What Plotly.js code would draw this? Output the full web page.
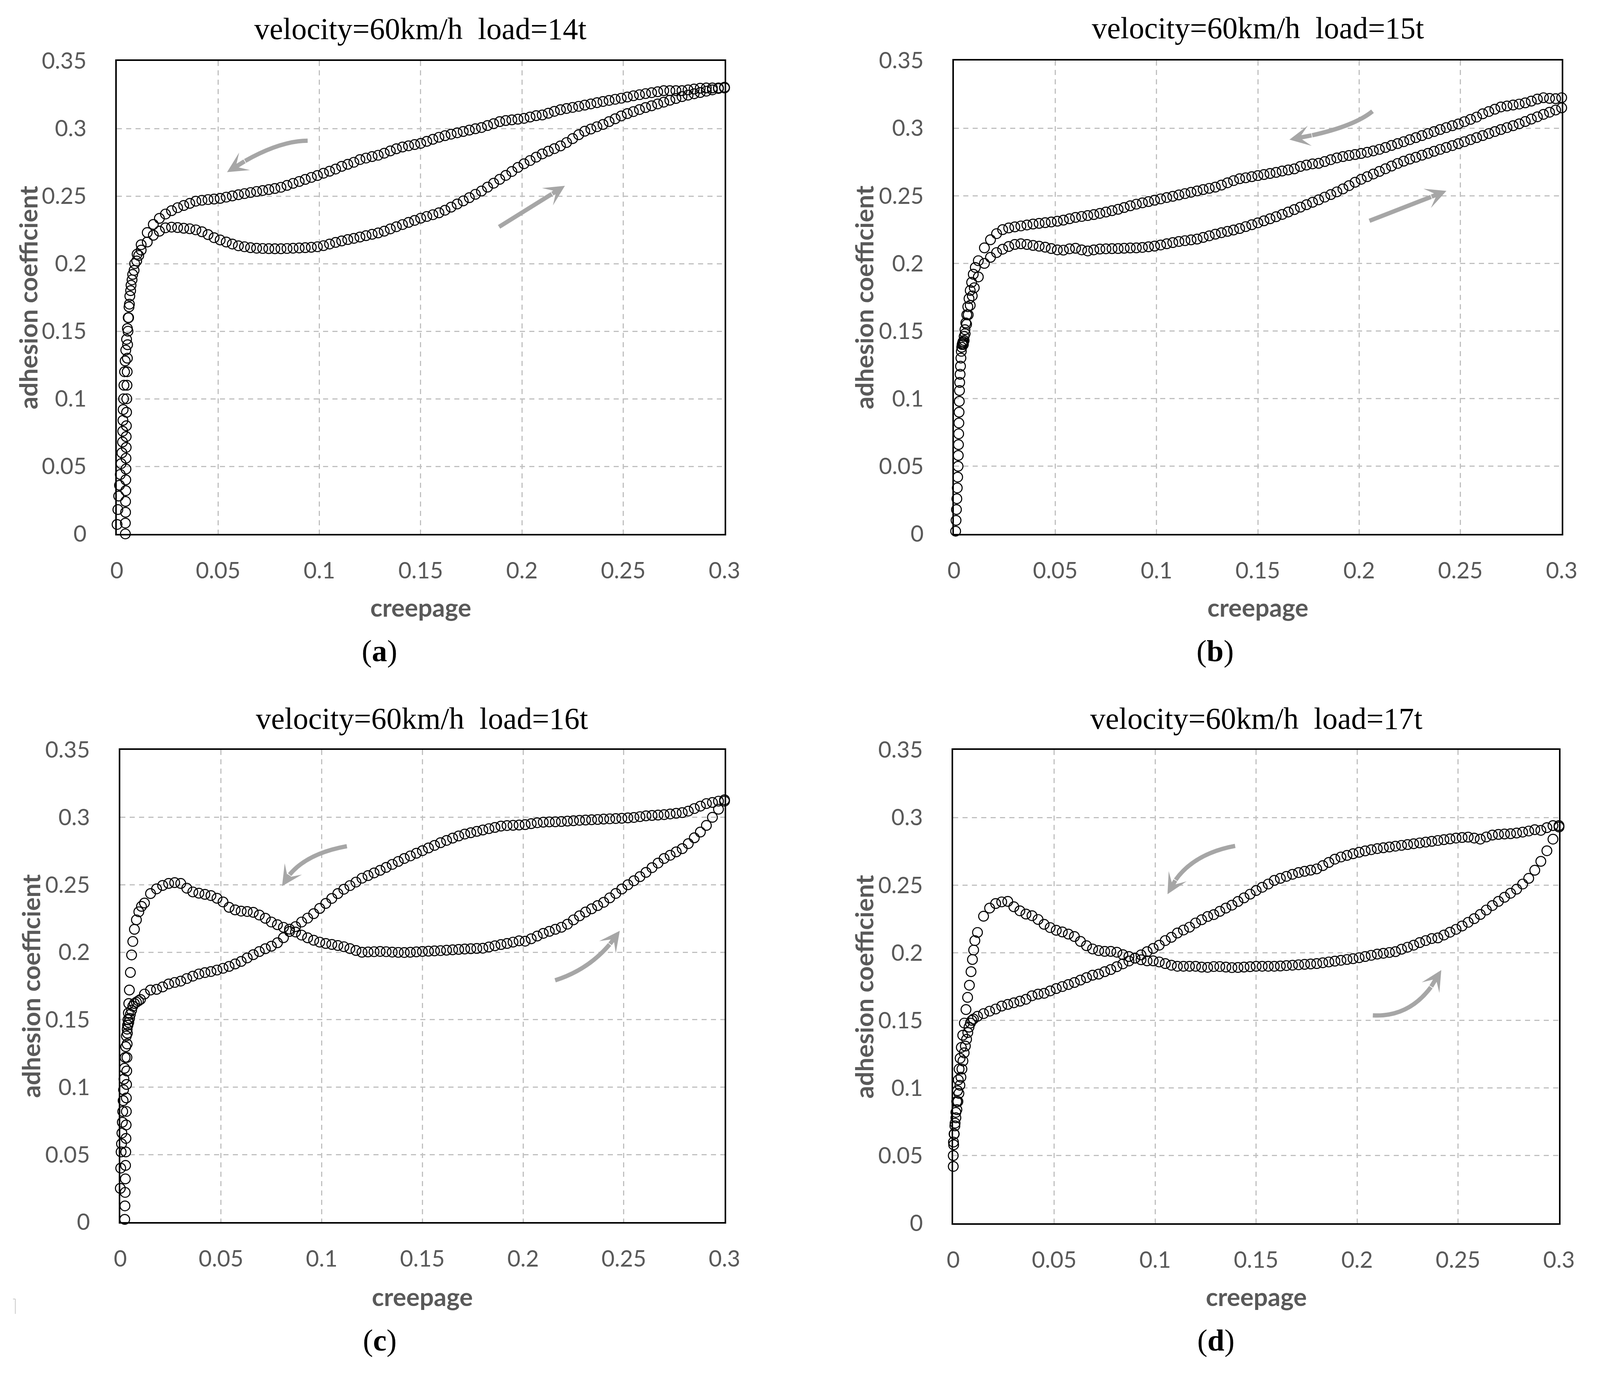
<!DOCTYPE html>
<html><head><meta charset="utf-8">
<script src="https://cdn.plot.ly/plotly-3.0.1.min.js"></script>
<style>html,body{margin:0;padding:0;background:#fff;overflow:hidden}</style>
</head><body>
<div id="chart"></div>
<script>
// reference frame is 4176 x 3518; the layout is expressed in fractions of it
const REF_W = 4176, REF_H = 3518;
const W = window.innerWidth || REF_W, H = window.innerHeight || REF_H;

const creepGrid = [
0.012,0.015,0.018,0.021,0.024,0.027,0.030,0.033,0.036,0.039,
0.042,0.045,0.048,0.051,0.054,0.057,0.060,0.063,0.066,0.069,
0.072,0.075,0.078,0.081,0.084,0.087,0.090,0.093,0.096,0.099,
0.102,0.105,0.108,0.111,0.114,0.117,0.120,0.123,0.126,0.129,
0.132,0.135,0.138,0.141,0.144,0.147,0.150,0.153,0.156,0.159,
0.162,0.165,0.168,0.171,0.174,0.177,0.180,0.183,0.186,0.189,
0.192,0.195,0.198,0.201,0.204,0.207,0.210,0.213,0.216,0.219,
0.222,0.225,0.228,0.231,0.234,0.237,0.240,0.243,0.246,0.249,
0.252,0.255,0.258,0.261,0.264,0.267,0.270,0.273,0.276,0.279,
0.282,0.285,0.288,0.291,0.294,0.297,0.300];

const aLoadLowX = [0.0042,0.0042,0.0043,0.0043,0.0044,0.0044,0.0045,0.0045,0.0046,0.0046,0.0047,0.0048,0.0049,0.0050,0.0051,0.0052,0.0053,0.0055,0.0058,0.0062,0.0068,0.0075,0.0085,0.0098,0.0108];
const aLoadLowY = [0.000,0.008,0.016,0.024,0.032,0.040,0.048,0.056,0.064,0.072,0.080,0.090,0.100,0.110,0.120,0.130,0.140,0.150,0.160,0.170,0.180,0.188,0.195,0.202,0.206];
const aLoadY = [
0.2100,0.2160,0.2210,0.2240,0.2265,0.2270,0.2267,0.2262,0.2258,0.2250,
0.2236,0.2215,0.2192,0.2175,0.2160,0.2145,0.2132,0.2125,0.2118,0.2114,
0.2112,0.2111,0.2110,0.2110,0.2112,0.2114,0.2116,0.2118,0.2121,0.2125,
0.2133,0.2145,0.2157,0.2168,0.2178,0.2187,0.2197,0.2207,0.2217,0.2227,
0.2240,0.2257,0.2273,0.2289,0.2305,0.2320,0.2336,0.2349,0.2362,0.2376,
0.2395,0.2418,0.2441,0.2464,0.2488,0.2513,0.2537,0.2566,0.2595,0.2624,
0.2653,0.2682,0.2712,0.2739,0.2763,0.2788,0.2812,0.2832,0.2851,0.2871,
0.2896,0.2925,0.2954,0.2980,0.2996,0.3013,0.3030,0.3051,0.3072,0.3093,
0.3110,0.3125,0.3140,0.3155,0.3168,0.3182,0.3195,0.3209,0.3222,0.3236,
0.3247,0.3257,0.3266,0.3276,0.3286,0.3296,0.3305];
const aUnloadY = [
0.2140,0.2230,0.2290,0.2335,0.2367,0.2392,0.2414,0.2430,0.2446,0.2462,
0.2469,0.2474,0.2478,0.2483,0.2492,0.2501,0.2510,0.2518,0.2526,0.2534,
0.2541,0.2548,0.2556,0.2565,0.2579,0.2594,0.2608,0.2623,0.2638,0.2652,
0.2669,0.2684,0.2700,0.2720,0.2735,0.2750,0.2770,0.2781,0.2792,0.2802,
0.2817,0.2834,0.2850,0.2863,0.2872,0.2881,0.2890,0.2905,0.2920,0.2935,
0.2947,0.2958,0.2968,0.2978,0.2988,0.2998,0.3007,0.3022,0.3036,0.3051,
0.3059,0.3064,0.3069,0.3075,0.3085,0.3095,0.3100,0.3113,0.3127,0.3139,
0.3148,0.3156,0.3164,0.3173,0.3182,0.3191,0.3200,0.3208,0.3216,0.3224,
0.3233,0.3242,0.3250,0.3258,0.3265,0.3272,0.3280,0.3280,0.3280,0.3280,
0.3286,0.3292,0.3298,0.3300,0.3300,0.3300,0.3300];
const aUnloadLowX = [0.0100,0.0088,0.0078,0.0070,0.0064,0.0060,0.0056,0.0052,0.0048,0.0044,0.0041,0.0038,0.0035,0.0033,0.0031,0.0030,0.0029,0.0028,0.0025,0.0021,0.0017,0.0013,0.0009,0.0005,0.0001];
const aUnloadLowY = [0.207,0.200,0.192,0.184,0.176,0.168,0.160,0.152,0.144,0.136,0.128,0.120,0.110,0.100,0.092,0.084,0.076,0.068,0.060,0.052,0.044,0.036,0.028,0.018,0.007];

const bLoadLowX = [0.0008,0.0010,0.0012,0.0014,0.0016,0.0018,0.0020,0.0021,0.0022,0.0023,0.0024,0.0025,0.0026,0.0027,0.0028,0.0030,0.0032,0.0034,0.0036,0.0038,0.0040,0.0042,0.0044,0.0046,0.0050,0.0055,0.0062,0.0070,0.0080,0.0090,0.0100];
const bLoadLowY = [0.002,0.010,0.018,0.026,0.034,0.042,0.050,0.058,0.066,0.074,0.082,0.090,0.098,0.106,0.112,0.118,0.124,0.130,0.135,0.138,0.140,0.141,0.142,0.140,0.143,0.148,0.155,0.162,0.169,0.176,0.182];
const bLoadY = [
0.1900,0.2000,0.2045,0.2080,0.2105,0.2125,0.2140,0.2145,0.2140,0.2133,
0.2127,0.2120,0.2110,0.2100,0.2098,0.2108,0.2112,0.2100,0.2092,0.2100,
0.2106,0.2108,0.2109,0.2110,0.2112,0.2114,0.2115,0.2118,0.2123,0.2128,
0.2136,0.2145,0.2154,0.2162,0.2168,0.2174,0.2180,0.2192,0.2204,0.2216,
0.2227,0.2237,0.2247,0.2258,0.2272,0.2286,0.2300,0.2315,0.2330,0.2345,
0.2362,0.2380,0.2398,0.2416,0.2434,0.2452,0.2470,0.2490,0.2509,0.2529,
0.2551,0.2575,0.2600,0.2622,0.2641,0.2661,0.2680,0.2700,0.2720,0.2739,
0.2756,0.2771,0.2785,0.2800,0.2814,0.2829,0.2843,0.2857,0.2871,0.2885,
0.2900,0.2915,0.2930,0.2945,0.2960,0.2975,0.2990,0.3004,0.3018,0.3032,
0.3049,0.3067,0.3084,0.3102,0.3118,0.3134,0.3150];
const bUnloadY = [
0.2020,0.2115,0.2175,0.2220,0.2250,0.2262,0.2270,0.2277,0.2284,0.2291,
0.2296,0.2301,0.2306,0.2312,0.2320,0.2330,0.2340,0.2347,0.2354,0.2361,
0.2370,0.2380,0.2390,0.2400,0.2413,0.2426,0.2438,0.2448,0.2457,0.2467,
0.2477,0.2487,0.2496,0.2506,0.2516,0.2526,0.2536,0.2546,0.2555,0.2564,
0.2579,0.2596,0.2612,0.2626,0.2633,0.2641,0.2649,0.2657,0.2665,0.2673,
0.2683,0.2691,0.2699,0.2717,0.2727,0.2736,0.2740,0.2753,0.2767,0.2780,
0.2790,0.2798,0.2805,0.2813,0.2822,0.2832,0.2843,0.2857,0.2872,0.2886,
0.2900,0.2915,0.2930,0.2945,0.2960,0.2975,0.2990,0.3004,0.3018,0.3031,
0.3048,0.3065,0.3082,0.3106,0.3123,0.3140,0.3157,0.3164,0.3171,0.3178,
0.3187,0.3200,0.3215,0.3225,0.3220,0.3218,0.3225];
const bUnloadLowX = [0.0105,0.0095,0.0087,0.0080,0.0074,0.0068,0.0063,0.0058,0.0054,0.0050,0.0047];
const bUnloadLowY = [0.197,0.192,0.186,0.180,0.174,0.168,0.162,0.156,0.151,0.146,0.142];

const cLoadLowX = [0.0022,0.0023,0.0024,0.0025,0.0026,0.0027,0.0028,0.0029,0.0030,0.0030,0.0031,0.0032,0.0033,0.0034,0.0035,0.0036,0.0038,0.0040,0.0042,0.0045,0.0050,0.0056,0.0062,0.0070,0.0080,0.0092,0.0105];
const cLoadLowY = [0.002,0.012,0.022,0.032,0.042,0.052,0.062,0.072,0.082,0.092,0.102,0.112,0.122,0.132,0.140,0.146,0.150,0.155,0.162,0.172,0.185,0.198,0.208,0.217,0.224,0.230,0.234];
const cLoadY = [
0.2365,0.2435,0.2470,0.2495,0.2510,0.2516,0.2510,0.2475,0.2447,0.2438,
0.2429,0.2420,0.2400,0.2373,0.2333,0.2314,0.2305,0.2302,0.2296,0.2276,
0.2252,0.2224,0.2204,0.2185,0.2171,0.2150,0.2127,0.2107,0.2089,0.2075,
0.2065,0.2058,0.2050,0.2041,0.2027,0.2013,0.2000,0.2002,0.2004,0.2006,
0.2004,0.2001,0.1999,0.1998,0.2000,0.2003,0.2006,0.2008,0.2010,0.2012,
0.2015,0.2018,0.2021,0.2024,0.2026,0.2028,0.2030,0.2039,0.2048,0.2057,
0.2065,0.2075,0.2085,0.2082,0.2100,0.2120,0.2140,0.2155,0.2170,0.2185,
0.2208,0.2240,0.2270,0.2298,0.2322,0.2346,0.2370,0.2403,0.2436,0.2469,
0.2500,0.2530,0.2560,0.2592,0.2627,0.2661,0.2695,0.2719,0.2744,0.2768,
0.2805,0.2848,0.2891,0.2940,0.3000,0.3060,0.3120];
const cUnloadY = [
0.1690,0.1720,0.1725,0.1743,0.1765,0.1776,0.1786,0.1805,0.1823,0.1839,
0.1849,0.1857,0.1868,0.1881,0.1895,0.1913,0.1932,0.1958,0.1982,0.2005,
0.2026,0.2045,0.2070,0.2108,0.2154,0.2190,0.2224,0.2253,0.2286,0.2325,
0.2362,0.2399,0.2435,0.2467,0.2494,0.2520,0.2549,0.2568,0.2588,0.2607,
0.2629,0.2651,0.2673,0.2695,0.2714,0.2734,0.2753,0.2773,0.2792,0.2812,
0.2829,0.2846,0.2862,0.2876,0.2886,0.2896,0.2906,0.2916,0.2925,0.2935,
0.2939,0.2941,0.2943,0.2946,0.2953,0.2960,0.2964,0.2966,0.2967,0.2969,
0.2972,0.2975,0.2978,0.2980,0.2982,0.2984,0.2987,0.2989,0.2991,0.2993,
0.2996,0.2999,0.3005,0.3011,0.3014,0.3017,0.3020,0.3025,0.3030,0.3035,
0.3046,0.3065,0.3083,0.3102,0.3110,0.3120,0.3130];
const cUnloadLowX = [0.0100,0.0090,0.0080,0.0070,0.0062,0.0056,0.0050,0.0046,0.0042,0.0038,0.0034,0.0030,0.0027,0.0024,0.0021,0.0018,0.0016,0.0014,0.0012,0.0010,0.0008,0.0006,0.0004,0.0002,0.0000];
const cUnloadLowY = [0.165,0.164,0.163,0.162,0.160,0.157,0.154,0.151,0.148,0.146,0.143,0.138,0.130,0.122,0.114,0.106,0.098,0.090,0.082,0.074,0.066,0.058,0.052,0.040,0.025];

const dLoadLowX = [0.0000,0.0000,0.0002,0.0005,0.0009,0.0013,0.0017,0.0021,0.0025,0.0029,0.0034,0.0040,0.0047,0.0055,0.0063,0.0071,0.0080,0.0088,0.0095,0.0101,0.0107];
const dLoadLowY = [0.042,0.050,0.058,0.066,0.074,0.082,0.090,0.098,0.106,0.114,0.122,0.130,0.139,0.148,0.158,0.167,0.176,0.186,0.195,0.202,0.209];
const dLoadY = [
0.2150,0.2270,0.2330,0.2364,0.2376,0.2380,0.2340,0.2310,0.2286,0.2274,
0.2246,0.2210,0.2186,0.2166,0.2154,0.2138,0.2120,0.2084,0.2052,0.2028,
0.2016,0.2010,0.2010,0.2004,0.1986,0.1972,0.1960,0.1948,0.1940,0.1940,
0.1932,0.1920,0.1908,0.1900,0.1900,0.1900,0.1900,0.1894,0.1892,0.1898,
0.1898,0.1894,0.1890,0.1891,0.1894,0.1897,0.1900,0.1900,0.1900,0.1900,
0.1902,0.1905,0.1908,0.1911,0.1914,0.1917,0.1920,0.1926,0.1932,0.1938,
0.1944,0.1950,0.1956,0.1963,0.1972,0.1981,0.1990,0.1996,0.2002,0.2008,
0.2026,0.2041,0.2056,0.2075,0.2090,0.2105,0.2110,0.2131,0.2152,0.2173,
0.2198,0.2225,0.2252,0.2283,0.2316,0.2349,0.2380,0.2410,0.2440,0.2470,
0.2508,0.2550,0.2610,0.2676,0.2754,0.2840,0.2930];
const dUnloadY = [
0.1530,0.1550,0.1568,0.1584,0.1606,0.1618,0.1630,0.1642,0.1656,0.1682,
0.1694,0.1700,0.1718,0.1735,0.1750,0.1765,0.1780,0.1798,0.1816,0.1834,
0.1842,0.1860,0.1876,0.1897,0.1918,0.1939,0.1960,0.1984,0.2008,0.2032,
0.2056,0.2090,0.2114,0.2146,0.2168,0.2189,0.2220,0.2244,0.2268,0.2282,
0.2306,0.2330,0.2352,0.2379,0.2406,0.2433,0.2460,0.2484,0.2508,0.2535,
0.2550,0.2565,0.2580,0.2593,0.2602,0.2611,0.2620,0.2644,0.2668,0.2692,
0.2708,0.2720,0.2732,0.2743,0.2753,0.2762,0.2770,0.2776,0.2782,0.2788,
0.2794,0.2800,0.2806,0.2812,0.2818,0.2824,0.2830,0.2836,0.2842,0.2848,
0.2852,0.2855,0.2848,0.2840,0.2856,0.2870,0.2875,0.2878,0.2880,0.2885,
0.2892,0.2900,0.2910,0.2905,0.2925,0.2940,0.2940];
const dUnloadLowX = [0.0100,0.0092,0.0085,0.0078,0.0072,0.0066,0.0060,0.0054,0.0048,0.0043,0.0038,0.0033,0.0028,0.0023,0.0018,0.0013,0.0008,0.0004,0.0001];
const dUnloadLowY = [0.151,0.150,0.148,0.145,0.141,0.136,0.131,0.126,0.120,0.114,0.108,0.102,0.096,0.090,0.084,0.078,0.072,0.066,0.060];

const panelTitles = ['velocity=60km/h\u00a0 load=14t','velocity=60km/h\u00a0 load=15t','velocity=60km/h\u00a0 load=16t','velocity=60km/h\u00a0 load=17t'];
const panelLetters = ['a','b','c','d'];
const xTitle = 'creepage';
const yTitle = 'adhesion coefficient';

const arrowsA = [[[0.0942,0.291],[0.0758,0.285],[0.0544,0.2677]], [[0.1887,0.2272],[0.2050,0.2424],[0.2212,0.2576]]];
const arrowsB = [[[0.2066,0.3125],[0.1908,0.3005],[0.1656,0.2915]], [[0.2051,0.2315],[0.2241,0.2426],[0.2431,0.2536]]];
const arrowsC = [[[0.1125,0.2786],[0.0922,0.2679],[0.0803,0.2490]], [[0.2159,0.1792],[0.2341,0.1932],[0.2480,0.2159]]];
const arrowsD = [[[0.1396,0.2790],[0.1187,0.2666],[0.1061,0.2433]], [[0.2078,0.1537],[0.2273,0.1612],[0.2417,0.1872]]];

// geometry measured in the 4176 x 3518 reference frame
const boxes = [
  {L:305, R:1891, T:156, B:1367},
  {L:2490, R:4076, T:155, B:1367},
  {L:314, R:1891, T:1920, B:3129},
  {L:2488, R:4069, T:1920, B:3132}
];
const titlePos = [[1098,74],[3283,72],[1102,1839],[3279,1839]];
const yTitleX = [73,2254,80,2254];
const xTitleY = [1554,1554,3319,3319];
const letterPos = [[990,1666],[3171,1666],[992,3431],[3173,3431]];

const panelData = [
  {loLX:aLoadLowX, loLY:aLoadLowY, lY:aLoadY, uY:aUnloadY, uLX:aUnloadLowX, uLY:aUnloadLowY, arrows:arrowsA},
  {loLX:bLoadLowX, loLY:bLoadLowY, lY:bLoadY, uY:bUnloadY, uLX:bUnloadLowX, uLY:bUnloadLowY, arrows:arrowsB},
  {loLX:cLoadLowX, loLY:cLoadLowY, lY:cLoadY, uY:cUnloadY, uLX:cUnloadLowX, uLY:cUnloadLowY, arrows:arrowsC},
  {loLX:dLoadLowX, loLY:dLoadLowY, lY:dLoadY, uY:dUnloadY, uLX:dUnloadLowX, uLY:dUnloadLowY, arrows:arrowsD}
];

const px = x => x / REF_W, py = y => 1 - y / REF_H;
const tickFont = {family:'Lato, "Open Sans", sans-serif', size:58, color:'#595959'};
const ARROW_COLOR = '#a6a6a6';

const traces = [], annotations = [], shapes = [];
const layout = {
  width: W, height: H, margin:{l:0,r:0,t:0,b:0},
  paper_bgcolor:'#ffffff', plot_bgcolor:'#ffffff', showlegend:false
};

const marker = {symbol:'circle-open', size:25, color:'#000000', line:{width:2.7, color:'#000000'}};

panelData.forEach((p, i) => {
  const n = i === 0 ? '' : String(i + 1);
  const xr = 'x' + n, yr = 'y' + n;
  const b = boxes[i];
  const common = {
    showgrid:true, gridcolor:'#c0c0c0', gridwidth:3, griddash:'13px,11px',
    zeroline:false, showline:true, linecolor:'#000000', linewidth:4, mirror:true,
    ticks:'', tickfont:tickFont, fixedrange:true, tick0:0, dtick:0.05
  };
  layout['xaxis' + n] = Object.assign({}, common, {
    domain:[px(b.L), px(b.R)], anchor:yr, range:[0,0.3], ticklabelstandoff:40
  });
  layout['yaxis' + n] = Object.assign({}, common, {
    domain:[py(b.B), py(b.T)], anchor:xr, range:[0,0.35], ticklabelstandoff:62
  });

  traces.push({type:'scatter', mode:'markers', xaxis:xr, yaxis:yr, cliponaxis:false,
    x: p.loLX.concat(creepGrid), y: p.loLY.concat(p.lY), marker:marker, hoverinfo:'x+y'});
  traces.push({type:'scatter', mode:'markers', xaxis:xr, yaxis:yr, cliponaxis:false,
    x: creepGrid.slice().reverse().concat(p.uLX), y: p.uY.slice().reverse().concat(p.uLY), marker:marker, hoverinfo:'x+y'});

  p.arrows.forEach(a => {
    const T = a[0], M = a[1], P = a[2];
    const C = [2*M[0] - (T[0]+P[0])/2, 2*M[1] - (T[1]+P[1])/2];
    const t = 0.8;
    const Bt = [(1-t)*(1-t)*T[0] + 2*(1-t)*t*C[0] + t*t*P[0], (1-t)*(1-t)*T[1] + 2*(1-t)*t*C[1] + t*t*P[1]];
    const Cs = [T[0] + t*(C[0]-T[0]), T[1] + t*(C[1]-T[1])];
    shapes.push({type:'path', xref:xr, yref:yr,
      path:`M${T[0]},${T[1]} Q${Cs[0]},${Cs[1]} ${Bt[0]},${Bt[1]}`,
      line:{color:ARROW_COLOR, width:11}});
    annotations.push({xref:xr, yref:yr, axref:xr, ayref:yr, x:P[0], y:P[1], ax:Bt[0], ay:Bt[1],
      text:'', showarrow:true, arrowhead:3, arrowsize:0.8, arrowwidth:11, arrowcolor:ARROW_COLOR, standoff:0, startstandoff:0});
  });

  annotations.push({xref:'paper', yref:'paper', x:px(titlePos[i][0]), y:py(titlePos[i][1]), xanchor:'center', yanchor:'middle',
    text:panelTitles[i], showarrow:false,
    font:{family:'"Liberation Serif", "DejaVu Serif", serif', size:78, color:'#000000'}});
  annotations.push({xref:'paper', yref:'paper', x:px(yTitleX[i]), y:py((b.T+b.B)/2), xanchor:'center', yanchor:'middle',
    text:'<b>' + yTitle + '</b>', textangle:-90, showarrow:false,
    font:{family:'Lato, "Open Sans", sans-serif', size:64, color:'#595959'}});
  annotations.push({xref:'paper', yref:'paper', x:px((b.L+b.R)/2), y:py(xTitleY[i]), xanchor:'center', yanchor:'middle',
    text:'<b>' + xTitle + '</b>', showarrow:false,
    font:{family:'Lato, "Open Sans", sans-serif', size:64, color:'#595959'}});
  annotations.push({xref:'paper', yref:'paper', x:px(letterPos[i][0]), y:py(letterPos[i][1]), xanchor:'center', yanchor:'middle',
    text:'(<b>' + panelLetters[i] + '</b>)', showarrow:false,
    font:{family:'"Liberation Serif", "DejaVu Serif", serif', size:78, color:'#000000'}});
});

// faint stray mark at the left margin
shapes.push({type:'line', xref:'paper', yref:'paper', x0:px(40), x1:px(40), y0:py(3326), y1:py(3364), line:{color:'#c8c8c8', width:2}});
shapes.push({type:'line', xref:'paper', yref:'paper', x0:px(34), x1:px(40), y0:py(3326), y1:py(3326), line:{color:'#c8c8c8', width:2}});

layout.annotations = annotations;
layout.shapes = shapes;

Plotly.newPlot('chart', traces, layout, {staticPlot:true, displayModeBar:false});
</script>
</body></html>
